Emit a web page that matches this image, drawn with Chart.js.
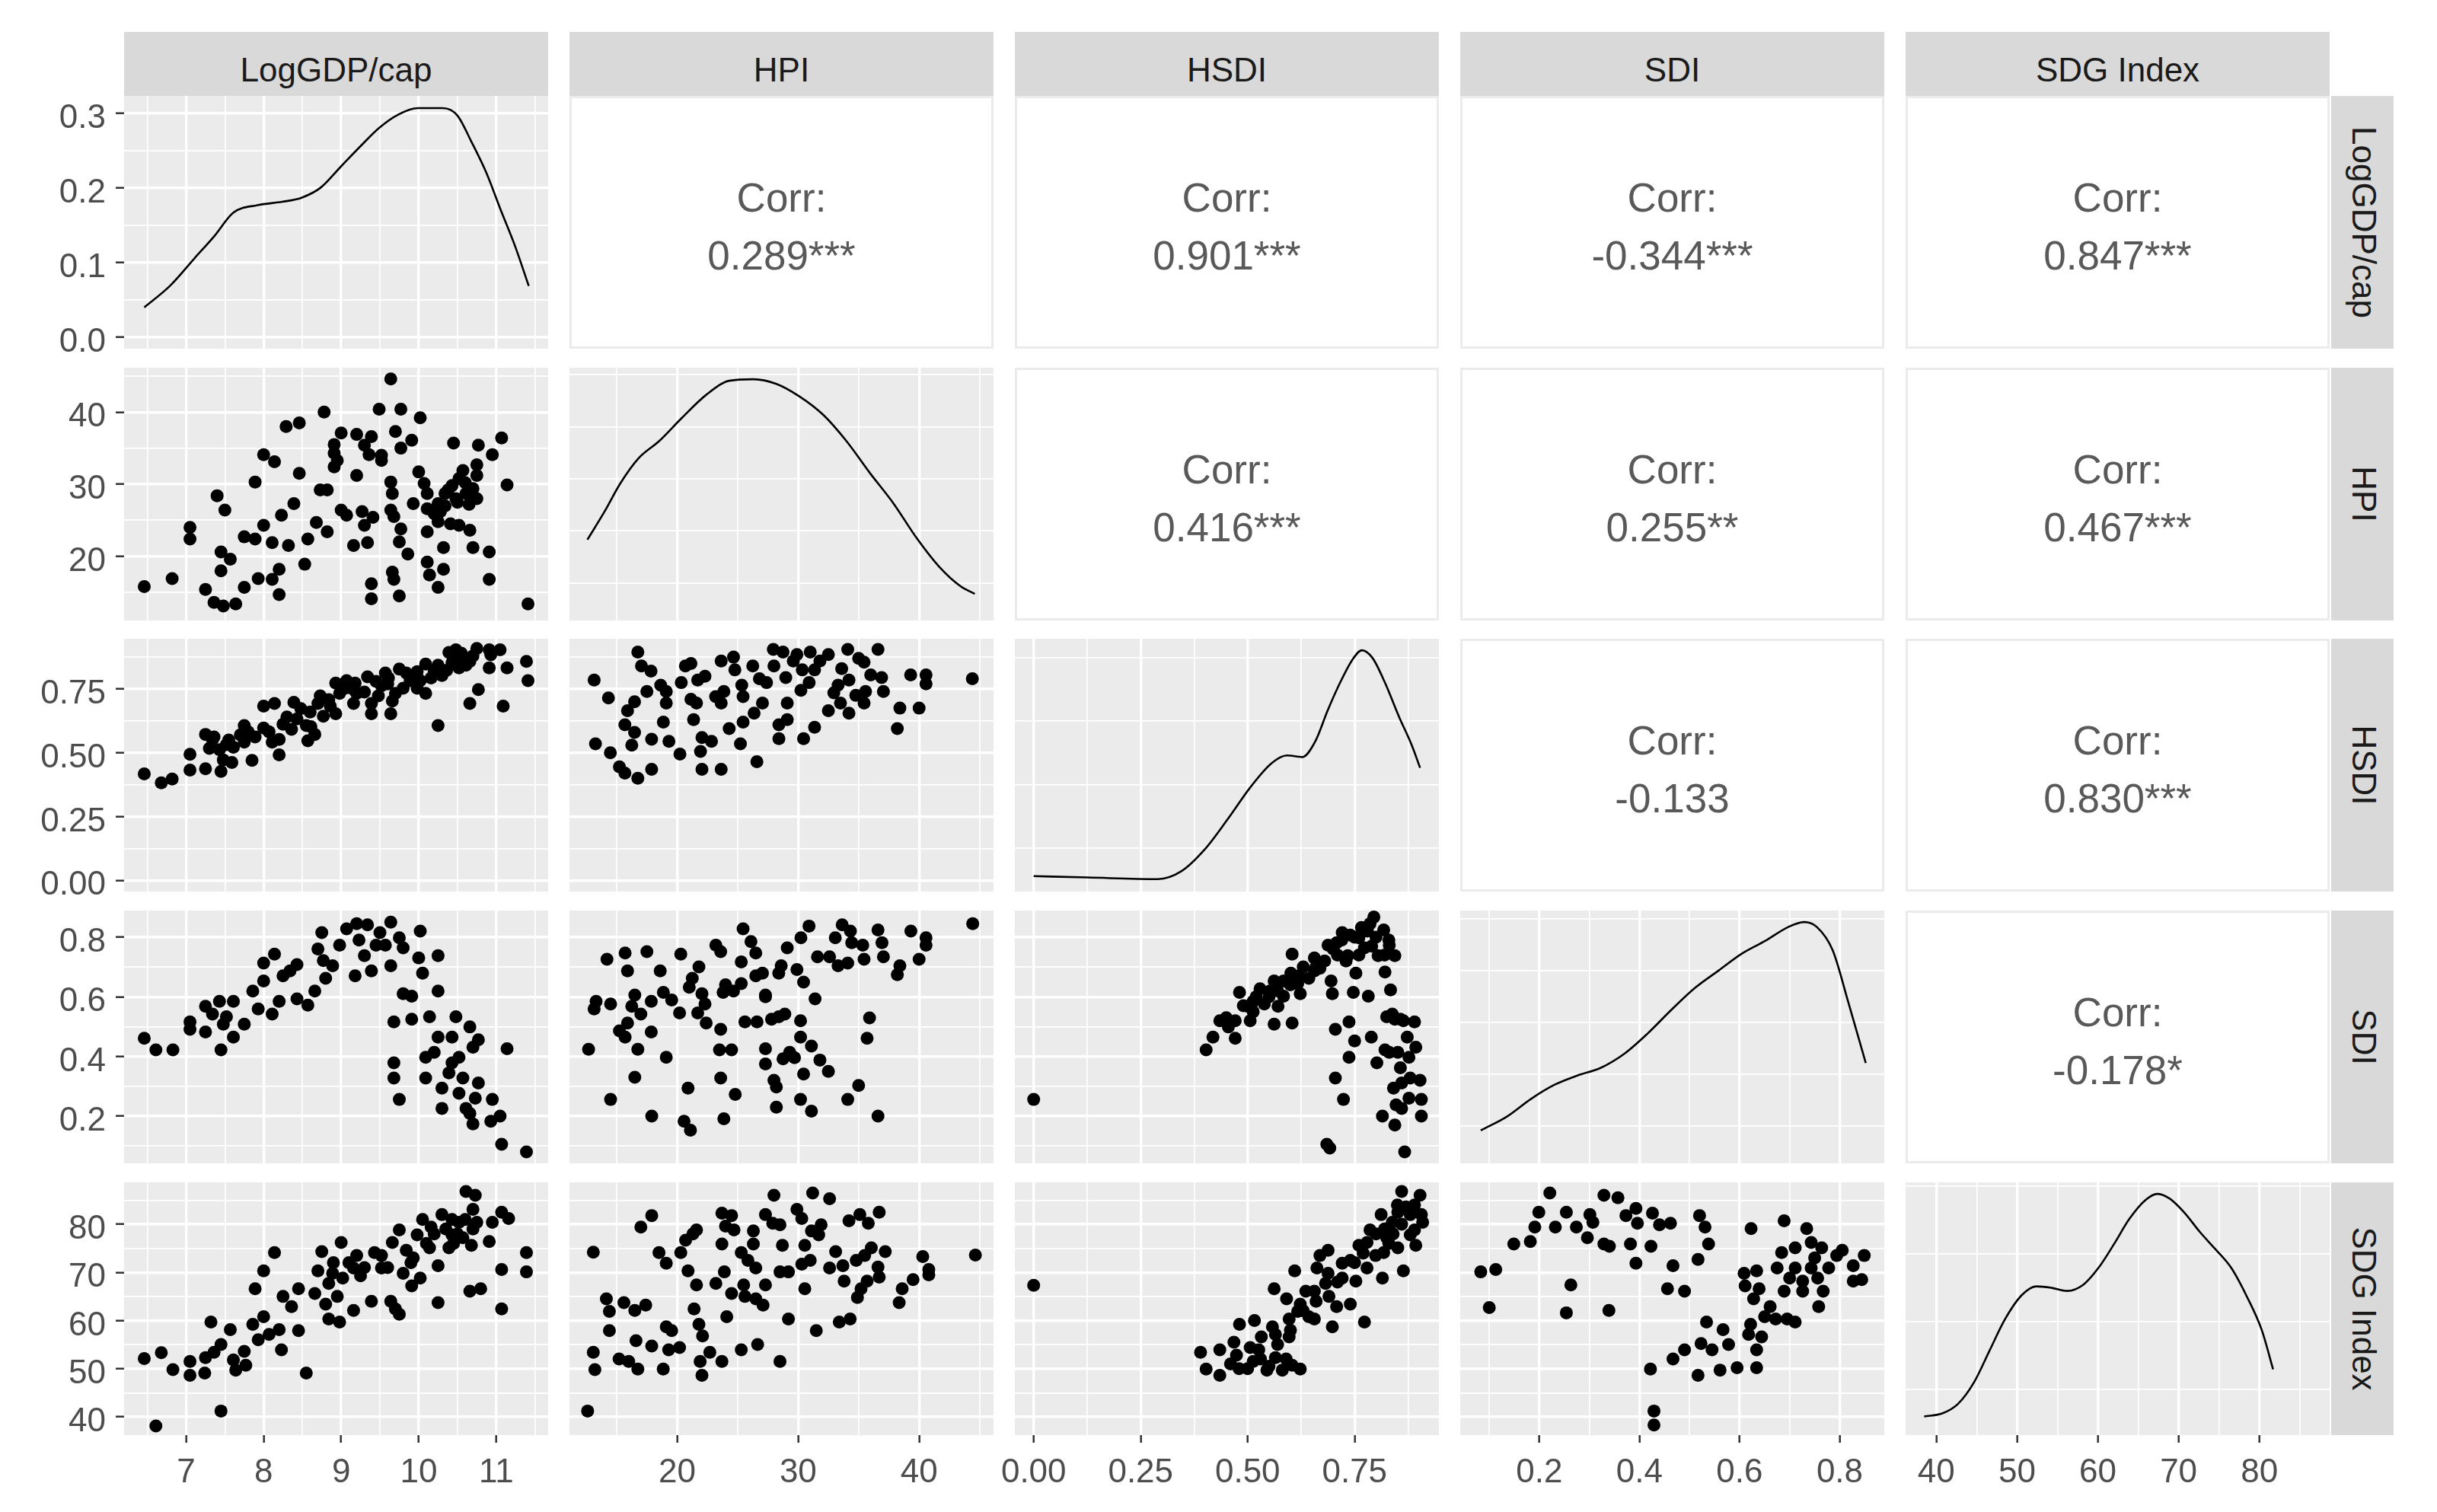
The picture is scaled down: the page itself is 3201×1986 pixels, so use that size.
<!DOCTYPE html>
<html>
<head>
<meta charset="utf-8">
<script src="https://cdn.jsdelivr.net/npm/chart.js@4.4.1/dist/chart.umd.min.js"></script>
<style>
body{margin:0;background:#fff;width:3201px;height:1986px;overflow:hidden;font-family:"Liberation Sans",Arial,sans-serif;}
#wrap{position:relative;width:3201px;height:1986px;}
canvas{position:absolute;}
.strip{position:absolute;box-sizing:border-box;padding-top:16px;background:#D9D9D9;color:#1A1A1A;font-size:44px;display:flex;align-items:center;justify-content:center;}
.strip.r{padding-top:0;padding-left:4px;}
.strip.r span{transform:rotate(90deg);white-space:nowrap;}
.corr{position:absolute;box-sizing:border-box;padding-top:12px;border:3px solid #EBEBEB;background:#fff;color:#595959;font-size:53px;text-align:center;display:flex;flex-direction:column;justify-content:center;line-height:76px;}
</style>
</head>
<body>
<div id="wrap"></div>
<script>
// variable names
const varNames = ['LogGDP/cap', 'HPI', 'HSDI', 'SDI', 'SDG Index'];

// tick labels per variable
const gdpTicks = [7, 8, 9, 10, 11], gdpLabels = ['7', '8', '9', '10', '11'];
const hpiTicks = [20, 30, 40], hpiLabels = ['20', '30', '40'];
const hsdiTicks = [0, 0.25, 0.5, 0.75], hsdiLabels = ['0.00', '0.25', '0.50', '0.75'];
const sdiTicks = [0.2, 0.4, 0.6, 0.8], sdiLabels = ['0.2', '0.4', '0.6', '0.8'];
const sdgTicks = [40, 50, 60, 70, 80], sdgLabels = ['40', '50', '60', '70', '80'];
const gdpDensTicks = [0, 0.1, 0.2, 0.3], gdpDensLabels = ['0.0', '0.1', '0.2', '0.3'];
const hpiDensTicks = [0, 0.01, 0.02, 0.03, 0.04];
const hsdiDensTicks = [0, 1, 2, 3];
const sdiDensTicks = [0, 0.5, 1, 1.5, 2];
const sdgDensTicks = [0, 0.01, 0.02, 0.03];

// axis limits (ggplot expanded ranges)
const gdpLim = [6.2, 11.67], hpiLim = [11.1, 46.15], hsdiLim = [-0.044, 0.947], sdiLim = [0.042, 0.889], sdgLim = [36.2, 88.7];
const gdpDensLim = [-0.0154, 0.3234];

// correlations (upper triangle, row by row)
const corrLabels = [
  [null, '0.289***', '0.901***', '-0.344***', '0.847***'],
  [null, null, '0.416***', '0.255**', '0.467***'],
  [null, null, null, '-0.133', '0.830***'],
  [null, null, null, null, '-0.178*']
];

// density curves on the diagonal
const gdpDensX = [6.46, 6.79, 7.11, 7.36, 7.61, 7.92, 8.24, 8.49, 8.74, 8.99, 9.24, 9.49, 9.74, 9.99, 10.31, 10.50, 10.68, 10.87, 11.06, 11.24, 11.42];
const gdpDensY = [0.040, 0.0687, 0.106, 0.135, 0.167, 0.177, 0.1815, 0.187, 0.2008, 0.228, 0.255, 0.2805, 0.2985, 0.307, 0.307, 0.297, 0.262, 0.221, 0.170, 0.123, 0.0687];
const hpiDensX = [12.58, 14.0, 15.3, 16.8, 18.5, 20.4, 22.4, 24.3, 26.3, 28.2, 30.1, 32.1, 34.0, 35.9, 37.9, 39.8, 41.7, 43.4, 44.6];
const hpiDensY = [0.0133, 0.0187, 0.0241, 0.0289, 0.0322, 0.0367, 0.0411, 0.0438, 0.0441, 0.0432, 0.0408, 0.0372, 0.0322, 0.0262, 0.0202, 0.0136, 0.0080, 0.0044, 0.0029];
const hsdiDensX = [0.0, 0.126, 0.290, 0.345, 0.399, 0.454, 0.508, 0.556, 0.592, 0.628, 0.658, 0.687, 0.716, 0.745, 0.767, 0.792, 0.821, 0.854, 0.883, 0.903];
const hsdiDensY = [0.061, 0.040, 0.014, 0.137, 0.475, 0.961, 1.472, 1.836, 1.958, 1.933, 2.178, 2.664, 3.100, 3.463, 3.611, 3.488, 3.100, 2.563, 2.128, 1.764];
const sdiDensX = [0.083, 0.136, 0.183, 0.230, 0.276, 0.323, 0.370, 0.417, 0.464, 0.511, 0.558, 0.605, 0.651, 0.698, 0.729, 0.754, 0.786, 0.817, 0.852];
const sdiDensY = [0.207, 0.343, 0.510, 0.647, 0.737, 0.812, 0.948, 1.146, 1.373, 1.584, 1.751, 1.916, 2.037, 2.174, 2.220, 2.174, 1.947, 1.448, 0.858];
const sdgDensX = [38.5, 40.8, 42.7, 44.7, 46.6, 48.5, 50.5, 52.4, 54.3, 56.2, 58.2, 60.1, 62.0, 63.9, 65.9, 67.4, 68.9, 70.7, 72.6, 74.5, 76.5, 78.4, 80.3, 81.7];
const sdgDensY = [0.00105, 0.00153, 0.00292, 0.00615, 0.01078, 0.01537, 0.01884, 0.02023, 0.0200, 0.01955, 0.02047, 0.02298, 0.02645, 0.03016, 0.03295, 0.03386, 0.03315, 0.03111, 0.02829, 0.02577, 0.02298, 0.01884, 0.01377, 0.00799];

// scatter panels [x, y]
const gdpHpi = [[9.64,44.6],[8.78,40.0],[9.49,40.4],[9.77,40.4],[10.02,39.2],[8.29,38.0],[8.46,38.5],[9.70,37.3],[9.91,36.1],[9.77,35.0],[11.07,36.4],[10.45,35.7],[10.77,35.4],[10.95,34.1],[9.0,37.1],[9.20,36.9],[9.39,36.6],[8.91,35.5],[8.91,34.3],[8.95,33.3],[8.91,32.4],[9.30,35.4],[9.36,34.1],[9.52,33.3],[9.52,34.0],[8.0,34.1],[8.14,33.1],[8.46,31.5],[9.20,31.2],[7.89,30.3],[8.73,29.2],[8.82,29.2],[11.14,29.9],[7.40,28.4],[7.50,26.4],[8.39,27.3],[8.23,25.7],[9.0,26.4],[9.07,25.7],[9.27,26.2],[9.41,25.4],[9.64,30.3],[9.66,28.7],[9.64,26.4],[9.68,25.5],[10.0,31.7],[10.07,30.1],[10.11,28.7],[9.93,27.3],[10.11,26.6],[10.25,27.3],[10.34,28.7],[10.43,29.8],[10.52,30.8],[10.57,31.9],[10.75,32.7],[10.75,31.2],[10.70,29.4],[10.75,28.0],[10.61,28.7],[10.48,28.0],[10.34,27.0],[10.20,25.9],[10.25,24.8],[10.41,24.5],[10.52,24.3],[10.66,23.6],[10.11,23.4],[9.77,23.8],[9.75,22.0],[9.86,20.3],[10.32,21.2],[10.70,21.2],[10.91,20.6],[10.11,19.2],[10.14,17.4],[10.32,18.2],[10.25,15.7],[10.91,16.8],[11.41,13.4],[9.66,17.8],[9.68,16.8],[9.75,14.5],[9.39,16.2],[9.39,14.1],[9.30,24.3],[9.34,21.9],[9.16,21.5],[8.68,24.7],[8.82,23.4],[8.57,22.4],[8.32,21.5],[8.53,18.9],[8.0,24.3],[7.75,22.7],[7.89,22.4],[8.11,21.9],[7.05,24.0],[7.05,22.4],[7.45,20.6],[7.57,19.6],[7.45,18.0],[6.82,16.9],[6.46,15.8],[7.25,15.4],[7.36,13.6],[7.48,13.1],[7.64,13.4],[7.75,15.7],[7.93,16.9],[8.11,16.8],[8.20,18.2],[8.20,14.7],[10.38,29.2],[10.6,30.2],[10.5,27.5],[10.28,26.2],[10.65,27.2]];
const gdpHsdi = [[6.46,0.417],[6.68,0.382],[6.82,0.397],[7.05,0.494],[7.05,0.432],[7.25,0.437],[7.25,0.572],[7.34,0.552],[7.30,0.517],[7.45,0.427],[7.48,0.472],[7.59,0.462],[7.52,0.532],[7.61,0.522],[7.75,0.607],[7.75,0.542],[7.85,0.470],[8.0,0.683],[8.14,0.693],[8.0,0.597],[7.89,0.562],[8.11,0.542],[8.20,0.492],[8.20,0.552],[8.25,0.612],[8.39,0.698],[8.48,0.673],[8.43,0.633],[8.55,0.607],[8.57,0.547],[8.66,0.572],[8.73,0.723],[8.70,0.693],[8.77,0.643],[8.86,0.683],[8.93,0.773],[8.98,0.733],[8.93,0.653],[9.07,0.783],[9.18,0.773],[9.16,0.693],[9.34,0.798],[9.30,0.738],[9.39,0.653],[9.39,0.693],[9.52,0.763],[9.61,0.793],[9.64,0.653],[9.66,0.703],[9.75,0.828],[9.80,0.753],[9.89,0.783],[9.98,0.818],[10.09,0.848],[10.09,0.733],[10.02,0.783],[10.16,0.793],[10.25,0.843],[10.25,0.607],[10.39,0.893],[10.36,0.823],[10.52,0.873],[10.52,0.833],[10.48,0.904],[10.66,0.858],[10.75,0.909],[10.91,0.833],[10.91,0.904],[11.05,0.904],[10.93,0.884],[11.14,0.833],[11.39,0.858],[11.41,0.783],[10.77,0.748],[10.66,0.693],[11.09,0.683],[10.61,0.843],[9.84,0.813],[9.48,0.723],[8.84,0.708],[8.61,0.602],[8.36,0.592],[8.07,0.582],[7.43,0.512],[7.36,0.562],[7.80,0.582],[9.20,0.733],[9.70,0.733],[10.30,0.803],[10.43,0.853],[9.05,0.753],[9.57,0.813],[9.98,0.753],[9.45,0.78],[9.6,0.77],[9.9,0.80],[10.2,0.82],[10.45,0.86],[10.7,0.88],[10.55,0.89],[9.15,0.75],[8.6,0.66],[8.3,0.64],[7.7,0.57],[7.55,0.55]];
const gdpSdi = [[6.46,0.461],[6.61,0.422],[6.83,0.422],[7.05,0.516],[7.05,0.491],[7.25,0.568],[7.25,0.482],[7.34,0.542],[7.45,0.422],[7.48,0.508],[7.43,0.585],[7.61,0.585],[7.61,0.465],[7.52,0.533],[7.75,0.508],[8.0,0.713],[8.14,0.743],[7.86,0.619],[7.93,0.559],[8.0,0.653],[8.11,0.542],[8.20,0.585],[8.25,0.670],[8.34,0.687],[8.43,0.708],[8.43,0.593],[8.57,0.572],[8.66,0.619],[8.75,0.815],[8.70,0.760],[8.77,0.721],[8.80,0.662],[8.89,0.704],[8.98,0.773],[9.07,0.828],[9.18,0.670],[9.20,0.845],[9.23,0.790],[9.30,0.738],[9.34,0.841],[9.39,0.687],[9.45,0.773],[9.50,0.815],[9.57,0.773],[9.64,0.850],[9.64,0.704],[9.75,0.798],[9.80,0.764],[10.02,0.820],[10.0,0.730],[10.05,0.679],[10.25,0.738],[10.25,0.619],[9.80,0.610],[9.91,0.602],[9.68,0.516],[9.91,0.525],[10.14,0.533],[9.68,0.379],[9.68,0.328],[9.75,0.256],[10.09,0.397],[10.09,0.328],[10.25,0.465],[10.30,0.294],[10.30,0.226],[10.39,0.345],[10.43,0.465],[10.48,0.533],[10.52,0.397],[10.52,0.277],[10.57,0.328],[10.61,0.226],[10.66,0.499],[10.70,0.431],[10.70,0.174],[10.73,0.260],[10.77,0.311],[10.77,0.456],[10.95,0.256],[10.93,0.183],[11.05,0.200],[11.07,0.106],[11.14,0.426],[11.39,0.080],[10.66,0.209],[10.43,0.379],[10.20,0.414]];
const gdpSdg = [[6.46,52.1],[6.68,53.3],[6.61,38.1],[6.83,49.8],[7.05,51.5],[7.05,48.6],[7.24,49.1],[7.25,52.3],[7.32,59.7],[7.36,53.4],[7.45,55.0],[7.45,41.2],[7.57,58.1],[7.61,51.8],[7.64,49.7],[7.75,53.6],[7.77,50.7],[7.89,66.6],[7.86,59.2],[8.0,70.3],[8.0,60.8],[7.93,56.0],[8.07,57.1],[8.14,74.1],[8.20,58.1],[8.23,53.9],[8.25,65.0],[8.36,62.9],[8.45,66.6],[8.45,57.9],[8.55,49.1],[8.66,65.6],[8.70,70.3],[8.75,74.3],[8.80,63.4],[8.84,60.3],[8.98,59.7],[8.95,65.0],[9.0,76.2],[8.89,69.8],[9.02,68.8],[9.16,62.1],[9.20,73.5],[9.25,69.3],[9.39,64.0],[9.43,74.1],[9.52,70.9],[9.64,64.0],[9.70,62.4],[9.75,61.3],[9.66,76.2],[9.75,78.8],[9.80,69.8],[9.91,67.2],[9.93,73.0],[10.02,68.8],[10.05,81.0],[10.14,75.1],[10.25,71.4],[10.25,63.7],[10.30,82.0],[10.39,75.1],[10.43,77.8],[10.52,80.4],[10.61,86.8],[10.73,86.0],[10.70,83.1],[10.57,77.2],[10.68,75.6],[10.75,80.4],[10.91,76.4],[10.95,80.4],[11.07,82.5],[11.16,81.2],[10.66,66.1],[10.80,66.6],[11.07,70.6],[11.07,62.4],[11.39,74.1],[11.39,70.1],[9.98,77.8],[10.16,79.4],[10.43,81.0],[9.84,74.6],[9.52,73.5],[9.16,70.9],[8.84,67.7],[10.2,78],[10.35,79],[10.5,78],[10.6,81],[10.45,76],[10.1,76],[9.9,72],[9.6,71],[9.3,71],[9.1,72],[8.9,72],[10.7,79]];
const hpiHsdi = [[16.75,0.895],[17.05,0.84],[17.84,0.82],[13.14,0.785],[14.32,0.715],[17.5,0.74],[18.64,0.765],[19.1,0.74],[19.1,0.695],[16.48,0.70],[15.9,0.665],[15.68,0.61],[16.48,0.58],[16.25,0.53],[18.86,0.62],[17.89,0.553],[19.32,0.545],[20.23,0.495],[13.25,0.535],[14.48,0.50],[15.23,0.445],[15.68,0.42],[16.75,0.40],[17.89,0.435],[20.68,0.84],[21.14,0.85],[20.34,0.775],[21.7,0.785],[21.14,0.71],[21.6,0.695],[21.36,0.63],[22.05,0.56],[22.84,0.545],[21.93,0.505],[22.05,0.435],[23.64,0.435],[23.64,0.86],[24.66,0.875],[24.77,0.825],[23.18,0.72],[23.86,0.74],[23.64,0.695],[25.34,0.765],[25.45,0.72],[24.3,0.595],[25.23,0.535],[25.45,0.62],[26.36,0.655],[27.05,0.695],[26.59,0.465],[26.25,0.84],[27.39,0.775],[27.95,0.905],[28.75,0.895],[28.98,0.795],[29.1,0.695],[29.1,0.63],[28.41,0.61],[28.41,0.555],[29.9,0.885],[30.34,0.825],[30.23,0.745],[31.0,0.895],[31.36,0.825],[30.91,0.775],[32.5,0.885],[31.36,0.6],[30.45,0.555],[34.1,0.905],[36.6,0.905],[35.45,0.855],[36.0,0.805],[36.9,0.795],[37.05,0.74],[33.3,0.765],[34.2,0.785],[32.95,0.735],[32.5,0.665],[33.5,0.695],[34.2,0.655],[34.77,0.725],[35.57,0.74],[35.45,0.695],[39.3,0.805],[40.57,0.805],[40.57,0.77],[38.41,0.675],[40.0,0.675],[38.2,0.595],[44.4,0.79],[22.3,0.80],[26.8,0.79],[28.0,0.84],[29.6,0.86],[31.8,0.86],[33.6,0.83],[35.0,0.87]];
const hpiSdi = [[44.43,0.845],[25.45,0.828],[30.9,0.837],[30.23,0.798],[33.64,0.841],[34.32,0.82],[33.07,0.798],[36.6,0.824],[39.32,0.82],[40.57,0.798],[40.57,0.773],[40.0,0.726],[38.41,0.704],[38.2,0.674],[36.93,0.781],[37.05,0.734],[35.45,0.726],[35.34,0.773],[34.43,0.781],[34.1,0.713],[33.3,0.704],[32.6,0.734],[31.6,0.734],[29.1,0.764],[26.1,0.785],[26.5,0.747],[25.3,0.717],[23.2,0.773],[23.6,0.751],[20.3,0.743],[17.5,0.751],[15.7,0.747],[14.2,0.726],[15.9,0.687],[18.6,0.687],[21.8,0.70],[21.25,0.662],[21.0,0.632],[22.05,0.61],[22.3,0.576],[21.7,0.546],[22.4,0.512],[23.6,0.491],[24.0,0.64],[23.8,0.615],[24.66,0.619],[25.3,0.644],[26.5,0.67],[27.05,0.679],[27.3,0.606],[28.4,0.679],[28.6,0.704],[29.9,0.691],[30.45,0.649],[31.4,0.593],[28.4,0.533],[28.9,0.542],[27.8,0.525],[25.6,0.516],[26.6,0.516],[30.2,0.52],[35.9,0.529],[35.7,0.461],[30.2,0.465],[31.1,0.435],[29.3,0.414],[28.75,0.392],[29.7,0.396],[31.8,0.388],[32.5,0.35],[27.3,0.426],[27.3,0.375],[30.45,0.341],[28.0,0.32],[28.2,0.298],[35.0,0.303],[34.1,0.256],[30.2,0.256],[31.1,0.217],[28.2,0.23],[36.6,0.20],[24.8,0.273],[23.6,0.328],[23.86,0.191],[20.9,0.294],[20.57,0.183],[21.1,0.153],[17.9,0.20],[14.5,0.256],[16.5,0.33],[19.1,0.397],[16.75,0.424],[17.86,0.482],[15.7,0.465],[15.23,0.486],[15.9,0.512],[12.68,0.424],[13.14,0.559],[13.3,0.585],[14.5,0.576],[16.5,0.606],[16.25,0.568],[17.0,0.542],[17.86,0.585],[18.86,0.615],[19.55,0.589],[20.2,0.546],[23.5,0.422],[24.5,0.422],[27.3,0.60]];
const hpiSdg = [[12.6,41.2],[13.07,74.2],[13.07,53.4],[13.2,49.8],[14.15,64.5],[14.4,61.9],[14.4,57.9],[15.2,52.0],[15.6,63.7],[16.5,62.1],[17.4,63.2],[16.0,51.5],[16.6,55.8],[16.75,49.9],[17.9,54.7],[17.9,81.8],[17.0,79.4],[18.5,74.1],[19.1,71.9],[18.85,49.9],[19.1,58.7],[19.55,57.9],[19.3,53.9],[20.2,54.4],[20.3,74.1],[20.7,76.7],[21.3,78.0],[21.6,78.8],[20.9,70.3],[21.6,67.4],[21.4,62.4],[21.8,59.2],[22.1,56.8],[21.9,51.5],[22.05,48.6],[22.7,53.4],[23.7,51.5],[23.7,82.3],[24.5,81.8],[24.0,79.6],[24.7,78.8],[23.7,75.9],[23.2,67.7],[23.9,70.1],[24.1,60.8],[25.3,53.9],[26.65,55.0],[24.5,65.6],[25.5,67.4],[25.6,65.0],[26.5,64.5],[27.1,63.2],[25.3,74.1],[25.85,72.5],[26.5,70.9],[26.3,78.6],[26.3,75.9],[27.3,82.0],[27.9,80.2],[28.5,79.9],[27.3,67.4],[28.0,86.0],[28.7,75.6],[28.5,70.1],[29.2,70.1],[28.5,51.5],[29.2,60.3],[29.9,83.1],[30.3,81.2],[31.2,86.5],[32.6,85.3],[30.55,75.6],[30.55,66.6],[30.3,71.7],[31.0,72.5],[31.1,78.6],[31.9,79.9],[31.7,77.8],[31.5,57.9],[32.6,70.9],[33.1,74.3],[33.7,71.4],[33.8,68.2],[33.4,59.7],[34.3,60.3],[34.2,80.7],[35.1,82.0],[35.8,80.2],[36.7,82.5],[34.8,72.5],[35.5,73.5],[36.05,75.1],[37.2,74.3],[36.6,71.1],[36.7,69.0],[35.7,68.2],[35.2,66.6],[34.9,64.8],[38.35,63.7],[38.6,66.6],[39.5,68.5],[40.3,73.3],[40.8,70.6],[40.8,69.5],[44.65,73.6]];
const hsdiSdi = [[0.0,0.256],[0.403,0.422],[0.419,0.465],[0.435,0.520],[0.455,0.499],[0.471,0.520],[0.471,0.461],[0.481,0.615],[0.50,0.568],[0.506,0.520],[0.513,0.585],[0.529,0.627],[0.539,0.576],[0.552,0.619],[0.562,0.653],[0.562,0.508],[0.571,0.568],[0.584,0.602],[0.601,0.679],[0.604,0.743],[0.604,0.512],[0.617,0.644],[0.623,0.610],[0.630,0.70],[0.643,0.662],[0.656,0.730],[0.669,0.696],[0.688,0.773],[0.695,0.653],[0.698,0.610],[0.705,0.491],[0.705,0.328],[0.724,0.256],[0.685,0.106],[0.692,0.093],[0.721,0.815],[0.734,0.738],[0.737,0.516],[0.737,0.397],[0.747,0.615],[0.75,0.452],[0.753,0.679],[0.766,0.832],[0.773,0.764],[0.782,0.602],[0.786,0.845],[0.789,0.465],[0.795,0.867],[0.802,0.379],[0.815,0.20],[0.818,0.824],[0.821,0.683],[0.821,0.422],[0.825,0.533],[0.831,0.773],[0.834,0.623],[0.841,0.294],[0.844,0.525],[0.844,0.738],[0.844,0.170],[0.847,0.238],[0.851,0.414],[0.857,0.362],[0.860,0.311],[0.864,0.520],[0.867,0.080],[0.873,0.465],[0.877,0.397],[0.877,0.260],[0.880,0.328],[0.890,0.516],[0.893,0.431],[0.903,0.32],[0.906,0.256],[0.906,0.20],[0.805,0.738],[0.760,0.798],[0.740,0.807],[0.708,0.781],[0.656,0.687],[0.584,0.653],[0.513,0.55],[0.857,0.525],[0.838,0.542],[0.860,0.226],[0.831,0.414],[0.70,0.76],[0.72,0.79],[0.75,0.80],[0.78,0.82],[0.80,0.80],[0.79,0.77],[0.76,0.74],[0.73,0.72],[0.68,0.72],[0.66,0.70],[0.62,0.67],[0.60,0.64],[0.57,0.62],[0.55,0.60],[0.52,0.60],[0.49,0.57],[0.45,0.53],[0.83,0.79],[0.82,0.74],[0.71,0.74]];
const hsdiSdg = [[0.0,67.3],[0.39,53.4],[0.403,49.9],[0.435,48.6],[0.435,53.9],[0.468,55.5],[0.474,52.8],[0.481,59.2],[0.513,51.5],[0.516,60.0],[0.506,54.4],[0.532,56.6],[0.545,49.7],[0.558,58.7],[0.565,52.3],[0.581,49.7],[0.597,56.6],[0.597,60.3],[0.604,50.7],[0.623,49.9],[0.562,66.6],[0.591,64.5],[0.610,70.3],[0.623,63.4],[0.643,60.8],[0.656,60.3],[0.636,66.1],[0.662,70.9],[0.669,73.5],[0.682,67.7],[0.688,74.6],[0.698,58.7],[0.708,62.9],[0.721,71.9],[0.740,63.4],[0.753,68.2],[0.760,75.6],[0.773,59.7],[0.779,70.9],[0.786,78.8],[0.799,73.5],[0.812,82.0],[0.815,68.8],[0.825,77.2],[0.838,80.4],[0.851,75.1],[0.860,86.8],[0.864,70.3],[0.870,83.6],[0.880,77.8],[0.893,75.6],[0.903,86.0],[0.906,82.0],[0.909,80.4],[0.890,78.8],[0.721,68.8],[0.740,72.5],[0.688,69.8],[0.656,66.1],[0.617,61.9],[0.565,57.1],[0.526,53.9],[0.779,76.2],[0.851,82.5],[0.818,74.1],[0.75,72],[0.77,74],[0.80,78],[0.82,79],[0.84,78],[0.86,80],[0.88,82],[0.89,84],[0.85,84],[0.83,76],[0.71,68],[0.69,65],[0.66,64],[0.63,62],[0.60,58],[0.57,55],[0.53,52],[0.50,50],[0.48,50],[0.46,51],[0.55,50.5],[0.59,52]];
const sdiSdg = [[0.083,70.1],[0.113,70.6],[0.100,62.7],[0.149,75.9],[0.182,76.4],[0.191,79.4],[0.199,82.5],[0.221,86.5],[0.232,79.4],[0.254,82.5],[0.263,67.4],[0.254,61.6],[0.274,79.4],[0.296,77.2],[0.301,82.0],[0.307,80.4],[0.329,86.0],[0.357,85.5],[0.329,75.9],[0.340,75.4],[0.339,62.1],[0.373,81.8],[0.393,83.3],[0.396,80.2],[0.382,75.9],[0.393,71.9],[0.426,82.3],[0.440,79.9],[0.462,80.2],[0.423,75.4],[0.467,71.4],[0.456,66.6],[0.490,66.1],[0.520,81.8],[0.531,79.4],[0.538,75.9],[0.517,72.7],[0.623,79.1],[0.689,80.7],[0.422,49.9],[0.429,41.2],[0.429,38.3],[0.534,59.7],[0.523,55.2],[0.490,53.9],[0.467,52.0],[0.517,48.6],[0.545,53.9],[0.567,58.1],[0.578,55.0],[0.561,49.7],[0.595,50.2],[0.618,57.1],[0.622,59.2],[0.634,53.9],[0.634,50.2],[0.609,69.8],[0.634,70.3],[0.611,67.2],[0.639,66.6],[0.628,64.5],[0.650,60.8],[0.661,62.9],[0.675,70.9],[0.684,74.1],[0.689,66.1],[0.695,60.3],[0.711,59.7],[0.711,75.1],[0.711,70.9],[0.700,68.8],[0.726,66.1],[0.734,79.1],[0.743,76.2],[0.750,73.0],[0.756,68.8],[0.758,62.9],[0.767,66.1],[0.778,70.9],[0.794,73.5],[0.805,74.6],[0.827,68.2],[0.844,68.5],[0.849,73.5],[0.827,71.4],[0.726,68.2],[0.743,70.9],[0.764,75.1],[0.672,60.3],[0.644,56.6]];

// layout in page pixels
const colLeft = [163, 748, 1333, 1918, 2503], PW = 557;
const rowTop = [126, 483, 839, 1196, 1553], PH = 332;
const LEFT = 163, BOTTOM = 101, M = 30;

const wrap = document.getElementById('wrap');

function makeSpec(lim, ticks, labels) {
  const half = (ticks[1] - ticks[0]) / 2;
  const all = [];
  let k = Math.ceil((lim[0] - ticks[0]) / half - 1e-9);
  for (let v = ticks[0] + k * half; v <= lim[1] + 1e-9; k++, v = ticks[0] + k * half) all.push(+v.toFixed(6));
  return { min: lim[0], max: lim[1], ticks: ticks, labels: labels || [], all: all };
}
function densLim(ys) {
  const m = Math.max.apply(null, ys);
  return [-0.05 * m, 1.05 * m];
}

const specs = [
  makeSpec(gdpLim, gdpTicks, gdpLabels),
  makeSpec(hpiLim, hpiTicks, hpiLabels),
  makeSpec(hsdiLim, hsdiTicks, hsdiLabels),
  makeSpec(sdiLim, sdiTicks, sdiLabels),
  makeSpec(sdgLim, sdgTicks, sdgLabels)
];
const densSpecs = [
  makeSpec(gdpDensLim, gdpDensTicks, gdpDensLabels),
  makeSpec(densLim(hpiDensY), hpiDensTicks),
  makeSpec(densLim(hsdiDensY), hsdiDensTicks),
  makeSpec(densLim(sdiDensY), sdiDensTicks),
  makeSpec(densLim(sdgDensY), sdgDensTicks)
];
const densData = [[gdpDensX, gdpDensY], [hpiDensX, hpiDensY], [hsdiDensX, hsdiDensY], [sdiDensX, sdiDensY], [sdgDensX, sdgDensY]];
const scatterData = {
  '1,0': gdpHpi, '2,0': gdpHsdi, '3,0': gdpSdi, '4,0': gdpSdg,
  '2,1': hpiHsdi, '3,1': hpiSdi, '4,1': hpiSdg,
  '3,2': hsdiSdi, '4,2': hsdiSdg,
  '4,3': sdiSdg
};

const panelBg = {
  id: 'panelBg',
  beforeDraw(chart) {
    const a = chart.chartArea, ctx = chart.ctx;
    ctx.save();
    ctx.fillStyle = '#EBEBEB';
    ctx.fillRect(a.left, a.top, a.right - a.left, a.bottom - a.top);
    ctx.restore();
  }
};

function isMajor(spec, v) {
  return spec.ticks.some(t => Math.abs(t - v) < 1e-9);
}

function axis(spec, show, size, horizontal) {
  return {
    type: 'linear',
    min: spec.min,
    max: spec.max,
    afterBuildTicks: s => { s.ticks = spec.all.map(v => ({ value: v })); },
    afterFit: s => {
      if (horizontal) s.height = size; else s.width = size;
      s.paddingTop = 0; s.paddingBottom = 0; s.paddingLeft = 0; s.paddingRight = 0;
    },
    grid: {
      color: '#FFFFFF',
      lineWidth: c => (c.tick && isMajor(spec, c.tick.value)) ? 3.4 : 1.7,
      drawTicks: show,
      tickLength: horizontal ? 10 : 11,
      tickWidth: 2.5,
      tickColor: c => (c.tick && isMajor(spec, c.tick.value)) ? '#333333' : 'rgba(0,0,0,0)'
    },
    border: { display: false },
    ticks: {
      display: show,
      autoSkip: false,
      maxRotation: 0,
      minRotation: 0,
      padding: 13,
      labelOffset: horizontal ? 0 : 7,
      color: '#4D4D4D',
      font: { family: 'Liberation Sans', size: 44 },
      callback: v => {
        const k = spec.ticks.findIndex(t => Math.abs(t - v) < 1e-9);
        return k >= 0 ? spec.labels[k] : '';
      }
    }
  };
}

function drawPanel(i, j) {
  const left = j === 0 ? LEFT : 0;
  const bottom = i === 4 ? BOTTOM : 0;
  const cv = document.createElement('canvas');
  cv.width = PW + left + 2 * M;
  cv.height = PH + bottom + 2 * M;
  cv.style.left = (colLeft[j] - left - M) + 'px';
  cv.style.top = (rowTop[i] - M) + 'px';
  wrap.appendChild(cv);

  let ds, yspec;
  if (i === j) {
    const d = densData[i];
    yspec = densSpecs[i];
    ds = [{
      data: d[0].map((x, k) => ({ x: x, y: d[1][k] })),
      showLine: true,
      pointRadius: 0,
      borderColor: '#000000',
      borderWidth: 2.6,
      cubicInterpolationMode: 'monotone',
      fill: false
    }];
  } else {
    yspec = specs[i];
    ds = [{
      data: scatterData[i + ',' + j].map(p => ({ x: p[0], y: p[1] })),
      pointRadius: 8.5,
      pointBackgroundColor: '#000000',
      pointBorderWidth: 0,
      showLine: false
    }];
  }

  new Chart(cv, {
    type: 'scatter',
    data: { datasets: ds },
    options: {
      responsive: false,
      animation: false,
      devicePixelRatio: 1,
      layout: { padding: M, autoPadding: false },
      plugins: { legend: { display: false }, tooltip: { enabled: false } },
      scales: {
        x: axis(specs[j], i === 4, bottom, true),
        y: axis(yspec, j === 0, left, false)
      }
    },
    plugins: [panelBg]
  });
}

function corrPanel(i, j) {
  const d = document.createElement('div');
  d.className = 'corr';
  d.style.left = colLeft[j] + 'px';
  d.style.top = rowTop[i] + 'px';
  d.style.width = PW + 'px';
  d.style.height = PH + 'px';
  d.innerHTML = '<div>Corr:</div><div>' + corrLabels[i][j] + '</div>';
  wrap.appendChild(d);
}

for (let j = 0; j < 5; j++) {
  const s = document.createElement('div');
  s.className = 'strip';
  s.style.left = colLeft[j] + 'px';
  s.style.top = '42px';
  s.style.width = PW + 'px';
  s.style.height = '84px';
  s.textContent = varNames[j];
  wrap.appendChild(s);
}
for (let i = 0; i < 5; i++) {
  const s = document.createElement('div');
  s.className = 'strip r';
  s.style.left = '3062px';
  s.style.top = rowTop[i] + 'px';
  s.style.width = '82px';
  s.style.height = PH + 'px';
  s.innerHTML = '<span>' + varNames[i] + '</span>';
  wrap.appendChild(s);
}

for (let i = 0; i < 5; i++) {
  for (let j = 0; j < 5; j++) {
    if (i < j) corrPanel(i, j);
    else drawPanel(i, j);
  }
}
</script>
</body>
</html>
